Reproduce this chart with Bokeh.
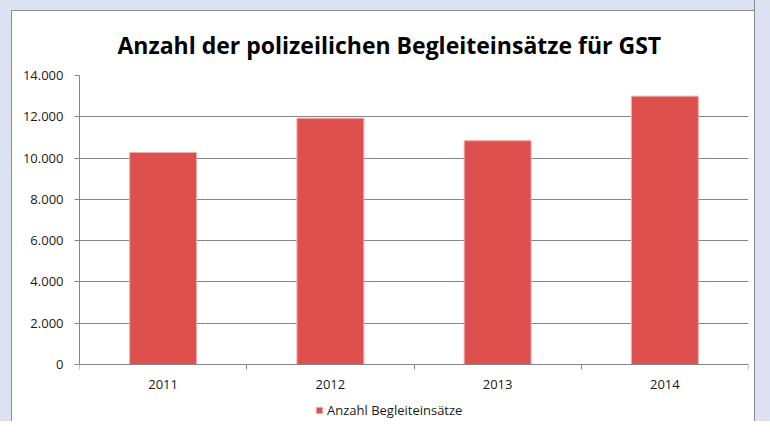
from bokeh.plotting import figure
from bokeh.models import Range1d, FixedTicker, Legend, LegendItem, ColumnDataSource
from bokeh.embed import file_html
from bokeh.resources import INLINE

years = ["2011", "2012", "2013", "2014"]
values = [10270, 11930, 10840, 13000]
y_ticks = [0, 2000, 4000, 6000, 8000, 10000, 12000, 14000]
y_tick_labels = ["0", "2.000", "4.000", "6.000", "8.000", "10.000", "12.000", "14.000"]
series_name = "Anzahl Begleiteinsätze"
title_text = "Anzahl der polizeilichen Begleiteinsätze für GST"

FONT = "Open Sans"
GREY = "#868686"
TXT = "#1A1A1A"
LAV = "#DCE2F2"

W, H = 754, 421
FRAME_TOP = 75          # px of the 14.000 gridline
ZERO_PX = 364           # px of the zero line
Y_MAX = 14000
px_per_unit = (ZERO_PX - FRAME_TOP) / Y_MAX
y_start = -(H - ZERO_PX) / px_per_unit

xs = [i + 0.5 for i in range(len(years))]
src = ColumnDataSource(dict(x=xs, top=values, year=years))

p = figure(width=W, height=H, output_backend="svg", toolbar_location=None,
           x_range=Range1d(0, len(years)), y_range=Range1d(y_start, Y_MAX),
           min_border_left=79, min_border_right=6, min_border_top=FRAME_TOP, min_border_bottom=0)
p.border_fill_color = None
p.border_fill_alpha = 0
p.background_fill_color = None
p.background_fill_alpha = 0
p.outline_line_color = None
p.styles = {
    "background-color": "white",
    "box-shadow": (f"inset 11px 10px 0 0 {LAV}, inset 12px 11px 0 0 #8C8C8C, "
                   f"1px 0 0 0 #8C8C8C, 16px 0 0 0 {LAV}"),
}

p.title.text = title_text
p.title.text_font = FONT
p.title.text_font_size = "23px"
p.title.text_font_style = "bold"
p.title.align = "left"
p.title.offset = 38
p.title.text_color = "black"
p.title.standoff = 30

r = p.vbar(x="x", top="top", width=0.4, source=src, fill_color="#DE504E",
           line_color="#F2AAA8", line_width=1)

# x axis, drawn at y = 0 inside the frame
p.xaxis.fixed_location = 0
p.xaxis.ticker = FixedTicker(ticks=xs, minor_ticks=list(range(len(years) + 1)))
p.xaxis.major_label_overrides = {x: y for x, y in zip(xs, years)}
p.xaxis.major_tick_out = 0
p.xaxis.major_tick_in = 0
p.xaxis.minor_tick_out = 5
p.xaxis.minor_tick_in = 0
p.xaxis.minor_tick_line_color = GREY
p.xaxis.axis_line_color = GREY
p.xaxis.major_label_text_font = FONT
p.xaxis.major_label_text_font_size = "13px"
p.xaxis.major_label_text_color = TXT
p.xaxis.major_label_standoff = 10

# y axis
p.yaxis.bounds = (0, Y_MAX)
p.yaxis.ticker = FixedTicker(ticks=y_ticks, minor_ticks=[])
p.yaxis.major_label_overrides = {t: l for t, l in zip(y_ticks, y_tick_labels)}
p.yaxis.major_tick_out = 5
p.yaxis.major_tick_in = 0
p.yaxis.major_tick_line_color = GREY
p.yaxis.axis_line_color = GREY
p.yaxis.major_label_text_font = FONT
p.yaxis.major_label_text_font_size = "13px"
p.yaxis.major_label_text_color = TXT
p.yaxis.major_label_standoff = 11

p.xgrid.grid_line_color = None
p.ygrid.ticker = FixedTicker(ticks=y_ticks)
p.ygrid.grid_line_color = GREY
p.ygrid.grid_line_width = 1

legend = Legend(items=[LegendItem(label=series_name, renderers=[r])],
                location=(236, 2), orientation="horizontal",
                background_fill_alpha=0, border_line_color=None, margin=0, padding=2,
                glyph_width=8, glyph_height=8, label_text_font=FONT,
                label_text_font_size="13px", label_text_color=TXT, label_standoff=4)
p.add_layout(legend, "center")

open("out.html", "w").write(file_html(p, INLINE))
